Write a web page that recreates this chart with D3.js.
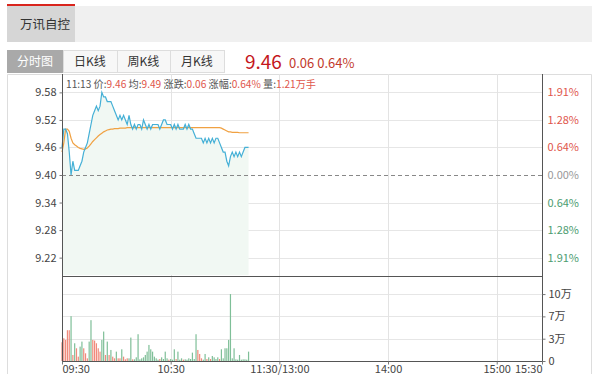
<!DOCTYPE html>
<html>
<head>
<meta charset="utf-8">
<script src="https://cdn.jsdelivr.net/npm/d3@7"></script>
<style>
body{margin:0;background:#fff;}
text{font-family:"Microsoft YaHei","Noto Sans CJK SC",sans-serif;}
</style>
</head>
<body>
<div id="plot"></div>
<script>
// chart data
var stockName = '万讯自控';
var tabs = ['分时图','日K线','周K线','月K线'];
var prevClose = 9.40;
var lastPrice = '9.46', lastChg = '0.06', lastPct = '0.64%';
var info = [['11:13 ',''],['价:','9.46'],[' 均:','9.49'],[' 涨跌:','0.06'],[' 涨幅:','0.64%'],[' 量:','1.21万手']];

var priceTicks = [9.22,9.28,9.34,9.40,9.46,9.52,9.58];
var timeTicks = [0,60,120,180,240,265];
var timeLabels = ['09:30','10:30','11:30/13:00','14:00','15:00','15:30'];
var volTicks = [0,10/3,20/3,10];

// one value per minute from 09:30 to 11:13
var price = [9.46,9.50,9.50,9.49,9.45,9.40,9.43,9.41,9.41,9.41,9.42,9.43,9.45,9.46,9.47,9.49,9.51,9.53,9.54,9.55,
  9.54,9.55,9.58,9.57,9.57,9.56,9.56,9.56,9.55,9.54,9.53,9.52,9.53,9.52,9.53,9.52,9.51,9.53,9.51,9.50,
  9.51,9.50,9.51,9.51,9.50,9.52,9.51,9.50,9.51,9.50,9.51,9.51,9.51,9.51,9.50,9.51,9.52,9.52,9.51,9.51,
  9.51,9.50,9.51,9.50,9.51,9.50,9.50,9.50,9.51,9.50,9.51,9.50,9.50,9.49,9.48,9.48,9.48,9.48,9.47,9.48,
  9.47,9.48,9.47,9.48,9.47,9.48,9.48,9.47,9.46,9.45,9.45,9.43,9.42,9.44,9.45,9.44,9.45,9.44,9.45,9.44,
  9.45,9.46,9.46,9.46];
var avg = [9.45,9.47,9.50,9.50,9.495,9.48,9.47,9.466,9.463,9.46,9.458,9.457,9.456,9.457,9.459,9.463,9.468,9.473,9.477,9.481,
  9.485,9.488,9.491,9.494,9.496,9.498,9.499,9.500,9.500,9.501,9.501,9.501,9.502,9.502,9.502,9.502,9.503,9.503,9.503,9.503,
  9.503,9.503,9.503,9.503,9.503,9.503,9.503,9.503,9.503,9.503,9.503,9.503,9.503,9.503,9.503,9.503,9.503,9.503,9.503,9.503,
  9.503,9.503,9.503,9.503,9.503,9.503,9.503,9.503,9.503,9.503,9.503,9.503,9.503,9.503,9.503,9.503,9.503,9.503,9.503,9.503,
  9.503,9.503,9.503,9.503,9.503,9.503,9.503,9.503,9.502,9.500,9.498,9.496,9.494,9.494,9.493,9.493,9.493,9.493,9.492,9.492,
  9.492,9.492,9.492,9.492];
// volume in 万
var vol = [2.8,3.4,3.15,4.6,4.6,6.7,0.9,2.65,1.9,0.65,2.15,2.9,1.9,1.15,0.4,2.9,6.1,3.15,3.05,2.65,
  1.9,1.4,3.15,4.4,0.9,2.9,0.9,1.65,0.65,0.4,1.4,0.4,0.4,1.75,0.65,0.25,0.4,0.4,3.5,0.25,
  0.25,0.55,4.0,0.25,0.4,0.55,0.9,1.4,2.4,1.75,1.4,0.65,0.4,0.2,0.3,0.55,0.3,1.4,0.4,0.2,
  0.3,0.2,1.75,0.3,1.4,0.2,0.4,0.2,0.25,0.2,0.4,0.3,1.25,0.3,4.0,1.65,1.05,0.4,0.2,1.05,
  0.3,0.55,0.3,0.75,0.55,0.3,0.55,0.3,1.75,0.4,1.9,1.9,3.15,10,0.4,1.9,0.25,0.2,0.9,0.2,
  0.25,0.25,0.2,1.4];
// 1 = up (red), 0 = down (green)
var volUp = [1,1,1,1,1,0,1,0,1,1,0,0,1,1,1,0,0,1,1,1,
  1,1,0,0,1,0,1,0,1,1,0,1,1,0,1,1,1,0,0,1,
  0,0,0,0,0,0,0,0,0,0,0,0,0,0,1,0,0,0,0,1,
  0,0,0,1,0,0,0,1,0,0,0,0,0,0,0,1,1,1,0,0,
  1,0,1,0,0,0,0,1,0,0,0,0,0,0,0,0,0,0,0,0,
  0,0,0,0];

var W = 600, H = 380;
var svg = d3.select('#plot').append('svg').attr('width',W).attr('height',H);

// header band
svg.append('rect').attr('x',7).attr('y',6).attr('width',585).attr('height',36).attr('fill','#f0f0f0');
svg.append('rect').attr('x',7).attr('y',6).attr('width',68).attr('height',36).attr('fill','#d6d6d6');
svg.append('rect').attr('x',7).attr('y',4).attr('width',68).attr('height',2).attr('fill','#d9251d');
svg.append('text').attr('x',20).attr('y',29).attr('font-size',12.5).attr('fill','#333').text(stockName);

// tabs
var tabX = [7,63,117,170], tabW = [56,54,53,54];
tabs.forEach(function(t,i){
  svg.append('rect').attr('x',tabX[i]+0.5).attr('y',50.5).attr('width',tabW[i]).attr('height',22)
    .attr('fill',i==0?'#a9a9a9':'#f7f7f7').attr('stroke',i==0?'#a9a9a9':'#dddddd');
  svg.append('text').attr('x',tabX[i]+tabW[i]/2).attr('y',66).attr('text-anchor','middle')
    .attr('font-size',12).attr('fill',i==0?'#fff':'#333').text(t);
});
svg.append('text').attr('x',245).attr('y',69).attr('font-size',19).attr('fill','#c4161c').text(lastPrice);
svg.append('text').attr('x',289).attr('y',68).attr('font-size',13).attr('fill','#c23a2b').text(lastChg+' '+lastPct);

// outer frame
svg.append('path').attr('d','M7.5,374V74.5H591.5V374').attr('fill','none').attr('stroke','#dddddd');

var x = d3.scaleLinear().domain([0,265]).range([62,542]);
var y = d3.scaleLinear().domain([9.18,9.62]).range([276,74]);
var yv = d3.scaleLinear().domain([0,12.7]).range([361,276]);

// grid
svg.append('g').selectAll('line').data(priceTicks.filter(function(d){return d!=prevClose;})).join('line')
  .attr('x1',62).attr('x2',542).attr('y1',function(d){return Math.round(y(d))+0.5;}).attr('y2',function(d){return Math.round(y(d))+0.5;})
  .attr('stroke','#e6e6e6');
svg.append('g').selectAll('line').data(volTicks.slice(1)).join('line')
  .attr('x1',62).attr('x2',542).attr('y1',function(d){return Math.round(yv(d))+0.5;}).attr('y2',function(d){return Math.round(yv(d))+0.5;})
  .attr('stroke','#e6e6e6');
svg.append('g').selectAll('line').data(timeTicks.slice(1,5)).join('line')
  .attr('y1',74).attr('y2',361).attr('x1',function(d){return Math.round(x(d))+0.5;}).attr('x2',function(d){return Math.round(x(d))+0.5;})
  .attr('stroke','#e3e3e3');

// area under price
var idx = d3.range(price.length);
svg.append('path').datum(idx)
  .attr('d',d3.area().x(function(i){return x(i);}).y0(275).y1(function(i){return y(price[i]);}))
  .attr('fill','#f1f8f3');

// prev close dashed line
svg.append('line').attr('x1',62).attr('x2',542).attr('y1',Math.round(y(prevClose))+0.5).attr('y2',Math.round(y(prevClose))+0.5)
  .attr('stroke','#888').attr('stroke-dasharray','4,3');

// lines
svg.append('path').datum(idx).attr('d',d3.line().x(function(i){return x(i);}).y(function(i){return y(avg[i]);}))
  .attr('fill','none').attr('stroke','#f0a142').attr('stroke-width',1.2);
svg.append('path').datum(idx).attr('d',d3.line().x(function(i){return x(i);}).y(function(i){return y(price[i]);}))
  .attr('fill','none').attr('stroke','#45b0d6').attr('stroke-width',1.2);

// volume bars
svg.append('g').selectAll('rect').data(idx).join('rect')
  .attr('x',function(i){return x(i)-0.6;}).attr('width',1.2)
  .attr('y',function(i){return yv(vol[i]);}).attr('height',function(i){return 361-yv(vol[i]);})
  .attr('fill',function(i){return volUp[i]?'#f08a7b':'#7fbf98';});

// axes frame
var ax = '#555';
svg.append('line').attr('x1',62.5).attr('x2',62.5).attr('y1',74).attr('y2',364).attr('stroke',ax);
svg.append('line').attr('x1',542.5).attr('x2',542.5).attr('y1',74).attr('y2',364).attr('stroke',ax);
svg.append('line').attr('x1',62).attr('x2',543).attr('y1',276.5).attr('y2',276.5).attr('stroke',ax);
svg.append('line').attr('x1',62).attr('x2',543).attr('y1',361.5).attr('y2',361.5).attr('stroke',ax);

// left price axis
var gl = svg.append('g').attr('transform','translate(62.5,0)')
  .call(d3.axisLeft(y).tickValues(priceTicks).tickSize(3).tickFormat(d3.format('.2f')));
gl.select('.domain').remove();
gl.selectAll('line').attr('stroke','#777');
gl.selectAll('text').attr('font-size',11).attr('fill','#444').attr('font-family','"Microsoft YaHei","Noto Sans CJK SC",sans-serif');

// right pct axis
var gr = svg.append('g').attr('transform','translate(542.5,0)')
  .call(d3.axisRight(y).tickValues(priceTicks).tickSize(0).tickPadding(5)
    .tickFormat(function(d){return Math.abs((d-prevClose)/prevClose*100).toFixed(2)+'%';}));
gr.select('.domain').remove();
gr.selectAll('text').attr('font-size',11).attr('font-family','"Microsoft YaHei","Noto Sans CJK SC",sans-serif')
  .attr('fill',function(d){return d>prevClose+0.001?'#e0564b':(d<prevClose-0.001?'#4c9c70':'#999');});

// right vol axis
var gv = svg.append('g').attr('transform','translate(542.5,0)')
  .call(d3.axisRight(yv).tickValues(volTicks).tickSize(3).tickPadding(3)
    .tickFormat(function(d){return d==0?'0':Math.round(d)+'万';}));
gv.select('.domain').remove();
gv.selectAll('line').attr('stroke','#777');
gv.selectAll('text').attr('font-size',11).attr('fill','#444').attr('font-family','"Microsoft YaHei","Noto Sans CJK SC",sans-serif');

// time axis
var gt = svg.append('g').attr('transform','translate(0,361.5)')
  .call(d3.axisBottom(x).tickValues(timeTicks).tickSize(3).tickPadding(1)
    .tickFormat(function(d,i){return timeLabels[i];}));
gt.select('.domain').remove();
gt.selectAll('line').attr('stroke','#777');
gt.selectAll('text').attr('font-size',11).attr('fill','#444').attr('font-family','"Microsoft YaHei","Noto Sans CJK SC",sans-serif')
  .attr('text-anchor',function(d,i){return i==0?'start':(i==timeTicks.length-1?'end':'middle');});

// info line
var t = svg.append('text').attr('x',66).attr('y',88).attr('font-size',10.5)
  .attr('textLength',250).attr('lengthAdjust','spacingAndGlyphs');
info.forEach(function(p){
  t.append('tspan').attr('fill','#555').text(p[0]);
  if(p[1]) t.append('tspan').attr('fill','#e0564b').text(p[1]);
});
</script>
</body>
</html>
